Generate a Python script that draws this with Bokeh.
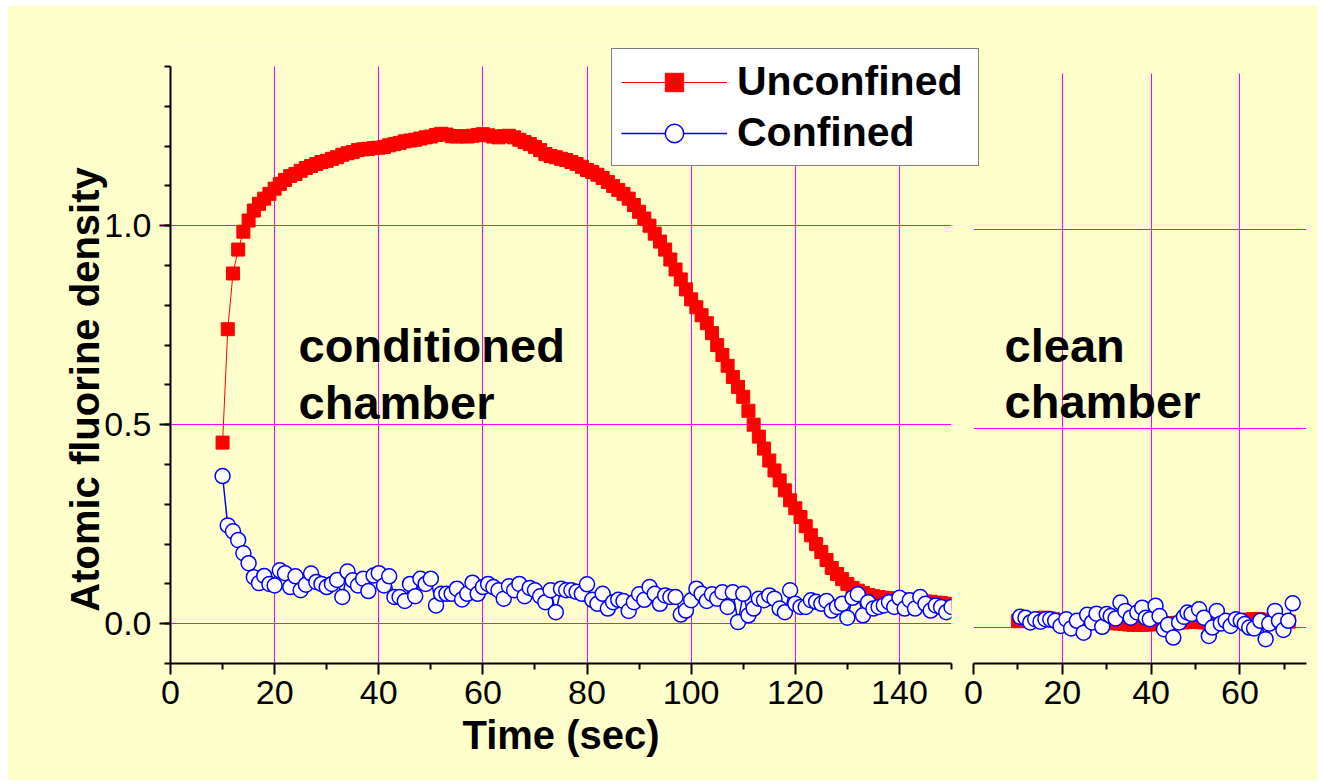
from bokeh.plotting import figure
from bokeh.models import (Range1d, FixedTicker, Legend, LegendItem, Label, Row, Grid,
                          PrintfTickFormatter)
from bokeh.embed import file_html
from bokeh.resources import INLINE

BG = "#FFFFCC"
GRID = "#FF00FF"
FONT = "Liberation Sans"

# ---------------- data ----------------
# conditioned chamber (left panel), one point per second
cond_time = list(range(10, 151))
cond_unconfined = [
    0.455, 0.74, 0.88, 0.94, 0.985, 1.013, 1.038, 1.055, 1.068, 1.08,
    1.093, 1.105, 1.115, 1.125, 1.13, 1.138, 1.145, 1.15, 1.155, 1.16,
    1.163, 1.168, 1.172, 1.178, 1.182, 1.185, 1.19, 1.192, 1.193, 1.195,
    1.196, 1.198, 1.202, 1.205, 1.208, 1.212, 1.214, 1.216, 1.219, 1.222,
    1.224, 1.228, 1.231, 1.229, 1.225, 1.224, 1.225, 1.224, 1.226, 1.228,
    1.23, 1.227, 1.224, 1.222, 1.225, 1.226, 1.222, 1.216, 1.21, 1.205,
    1.198, 1.19, 1.18, 1.175, 1.172, 1.168, 1.165, 1.16, 1.155, 1.148,
    1.14, 1.135, 1.128, 1.12, 1.11, 1.10, 1.09, 1.08, 1.068, 1.052,
    1.035, 1.018, 1.0, 0.98, 0.96, 0.94, 0.915, 0.89, 0.865, 0.84,
    0.815, 0.795, 0.775, 0.755, 0.73, 0.7, 0.675, 0.648, 0.62, 0.595,
    0.57, 0.535, 0.5, 0.47, 0.44, 0.41, 0.385, 0.36, 0.335, 0.31,
    0.29, 0.268, 0.245, 0.222, 0.2, 0.18, 0.16, 0.14, 0.125, 0.112,
    0.1, 0.09, 0.083, 0.077, 0.072, 0.069, 0.067, 0.065, 0.064, 0.063,
    0.062, 0.061, 0.06, 0.059, 0.057, 0.056, 0.055, 0.053, 0.052, 0.05, 0.048,
]
cond_confined = [
    0.371, 0.247, 0.232, 0.21, 0.177, 0.152, 0.117, 0.102, 0.12, 0.10,
    0.096, 0.134, 0.127, 0.092, 0.119, 0.084, 0.098, 0.126, 0.105, 0.10,
    0.092, 0.10, 0.11, 0.067, 0.131, 0.109, 0.096, 0.113, 0.082, 0.121,
    0.127, 0.096, 0.119, 0.067, 0.067, 0.057, 0.10, 0.069, 0.113, 0.10,
    0.113, 0.046, 0.075, 0.075, 0.075, 0.088, 0.061, 0.075, 0.103, 0.075,
    0.092, 0.10, 0.092, 0.084, 0.063, 0.094, 0.084, 0.10, 0.069, 0.09,
    0.084, 0.069, 0.054, 0.084, 0.029, 0.088, 0.084, 0.084, 0.08, 0.075,
    0.099, 0.06, 0.05, 0.075, 0.038, 0.054, 0.06, 0.057, 0.032, 0.054,
    0.074, 0.06, 0.092, 0.075, 0.05, 0.071, 0.067, 0.067, 0.023, 0.033,
    0.059, 0.088, 0.075, 0.057, 0.074, 0.063, 0.079, 0.042, 0.079, 0.004,
    0.075, 0.021, 0.038, 0.063, 0.059, 0.071, 0.063, 0.038, 0.029, 0.084,
    0.05, 0.042, 0.042, 0.059, 0.055, 0.05, 0.057, 0.033, 0.042, 0.05,
    0.015, 0.065, 0.074, 0.021, 0.054, 0.038, 0.042, 0.046, 0.054, 0.042,
    0.065, 0.038, 0.059, 0.038, 0.067, 0.05, 0.033, 0.046, 0.042, 0.029, 0.042,
]

# clean chamber (right panel)
clean_time_unconf = list(range(10, 72))
clean_unconfined = [
    0.015, 0.016, 0.017, 0.018, 0.02, 0.022, 0.024, 0.022, 0.02, 0.016,
    0.014, 0.012, 0.012, 0.011, 0.012, 0.013, 0.014, 0.014, 0.013, 0.012,
    0.012, 0.011, 0.01, 0.009, 0.008, 0.007, 0.006, 0.006, 0.006, 0.007,
    0.007, 0.008, 0.008, 0.009, 0.01, 0.01, 0.011, 0.012, 0.013, 0.013,
    0.014, 0.013, 0.012, 0.011, 0.011, 0.012, 0.013, 0.014, 0.015, 0.016,
    0.017, 0.018, 0.019, 0.02, 0.02, 0.019, 0.018, 0.016, 0.015, 0.014,
    0.014, 0.014,
]
clean_time_conf = [
    10.5, 11.7, 12.8, 13.9, 15.1, 16.2, 17.3, 18.4, 19.6, 20.9,
    22.0, 23.3, 24.8, 25.6, 26.7, 27.7, 29.0, 30.0, 30.9, 32.0,
    33.1, 34.2, 35.4, 36.9, 38.0, 38.8, 39.7, 41.0, 41.9, 42.9,
    43.8, 45.0, 46.3, 47.4, 48.2, 49.1, 50.8, 51.9, 53.0, 53.8,
    54.8, 55.7, 56.8, 57.9, 59.1, 60.2, 61.1, 62.1, 63.2, 64.6,
    65.8, 66.6, 67.9, 68.8, 69.8, 70.9, 71.9,
]
clean_confined = [
    0.026, 0.024, 0.012, 0.02, 0.014, 0.02, 0.02, 0.016, 0.003, 0.02,
    -0.003, 0.016, -0.014, 0.031, 0.012, 0.034, 0.001, 0.033, 0.028, 0.022,
    0.062, 0.041, 0.024, 0.037, 0.049, 0.024, 0.02, 0.054, 0.028, -0.005,
    0.006, -0.026, 0.012, 0.026, 0.037, 0.033, 0.045, 0.024, -0.022, -0.001,
    0.041, 0.009, 0.016, 0.003, 0.02, 0.016, 0.008, -0.001, -0.003, 0.016,
    -0.03, 0.009, 0.041, 0.016, -0.007, 0.016, 0.06,
]

y_major = [0.0, 0.5, 1.0]
y_minor = [-0.1, 0.0, 0.1, 0.2, 0.3, 0.4, 0.5, 0.6, 0.7, 0.8, 0.9, 1.0, 1.1, 1.2, 1.3, 1.4]
x1_major = [0, 20, 40, 60, 80, 100, 120, 140]
x1_minor = [10, 30, 50, 70, 90, 110, 130, 150]
x2_major = [0, 20, 40, 60]
x2_minor = [10, 30, 50, 70]

series_names = ["Unconfined", "Confined"]
panel_texts = [["conditioned", "chamber"], ["clean", "chamber"]]
x_title = "Time (sec)"
y_title = "Atomic fluorine density"

Y_LO, Y_HI = -0.1, 1.4          # plotted y span of both panels
X1_HI, X2_HI = 150, 75          # x spans of the two panels


def style_axis(ax):
    ax.axis_line_width = 2
    ax.axis_line_color = "black"
    ax.major_tick_line_width = 2
    ax.minor_tick_line_width = 2
    ax.major_tick_line_color = "black"
    ax.minor_tick_line_color = "black"
    ax.major_tick_out = 11
    ax.major_tick_in = 0
    ax.minor_tick_out = 6
    ax.minor_tick_in = 0
    ax.major_label_text_font = FONT
    ax.major_label_text_font_size = "34px"
    ax.major_label_text_color = "black"
    ax.axis_label_text_font = FONT
    ax.axis_label_text_font_size = "40px"
    ax.axis_label_text_font_style = "bold"
    ax.axis_label_text_color = "black"


HAS_CROSS = "cross_bounds" in Grid.properties()


def style_grid(g, cross=None):
    g.grid_line_color = GRID
    g.grid_line_width = 1
    if cross is not None and HAS_CROSS:
        g.cross_bounds = cross


# ---- canvas geometry: three stacked layers share one canvas box ----
W, H = 1311, 775
OX, OY = 7, 5                    # page offset of the canvas
TOP, BOT = 42, 117               # common top / bottom borders (frames are aligned in a Row)
FRAME_H = H - TOP - BOT          # 616 px
PX_PER_Y = 398.0                 # 1.5 units over 597 px, as in the reference
Y_TOP = Y_LO + FRAME_H / PX_PER_Y   # frame reaches a little above 1.4 so the legend fits
P2_DROP = 3.5 / PX_PER_Y         # right panel sits ~3 px lower in the reference

# ---------------- left panel: conditioned chamber ----------------
p1 = figure(width=W, height=H, x_range=Range1d(0, X1_HI), y_range=Range1d(Y_LO, Y_TOP),
            output_backend="svg", toolbar_location=None,
            min_border_left=163, min_border_right=W - 163 - 781,
            min_border_top=TOP, min_border_bottom=BOT,
            background_fill_color=BG, border_fill_color=BG, outline_line_color=None,
            margin=(OY, 0, 0, OX))

p1.xaxis.ticker = FixedTicker(ticks=x1_major, minor_ticks=x1_minor)
p1.yaxis.ticker = FixedTicker(ticks=y_major, minor_ticks=y_minor)
p1.yaxis.bounds = (Y_LO, Y_HI)
p1.yaxis.formatter = PrintfTickFormatter(format="%.1f")
p1.xaxis.axis_label = x_title
for ax in p1.axis:
    style_axis(ax)
p1.xaxis.major_label_standoff = 6
p1.yaxis.major_label_standoff = 8
p1.xaxis.axis_label_standoff = 6
style_grid(p1.xgrid[0], cross=(Y_LO, Y_HI))
style_grid(p1.ygrid[0])

p1.line(cond_time, cond_unconfined, line_color="red", line_width=1)
p1.scatter(cond_time, cond_unconfined, marker="square", size=13,
           fill_color="red", line_color="red", line_width=1)
p1.line(cond_time, cond_confined, line_color="blue", line_width=1.5)
p1.scatter(cond_time, cond_confined, marker="circle", size=15,
           fill_color="white", line_color="blue", line_width=1.5)

for txt, yv in zip(panel_texts[0], [0.699, 0.557]):
    p1.add_layout(Label(x=24.6, y=yv, text=txt, text_font=FONT, text_font_style="bold",
                        text_font_size="47px", text_baseline="alphabetic", text_color="black"))

# ---------------- right panel: clean chamber (transparent overlay) ----------------
p2 = figure(width=W, height=H, x_range=Range1d(0, X2_HI),
            y_range=Range1d(Y_LO + P2_DROP, Y_TOP + P2_DROP),
            output_backend="svg", toolbar_location=None,
            min_border_left=966, min_border_right=W - 966 - 333,
            min_border_top=TOP, min_border_bottom=BOT,
            background_fill_alpha=0, border_fill_alpha=0, outline_line_color=None,
            margin=(OY, 0, 0, -W))
p2.xaxis.ticker = FixedTicker(ticks=x2_major, minor_ticks=x2_minor)
p2.yaxis.ticker = FixedTicker(ticks=y_major, minor_ticks=[])
p2.ygrid.ticker = FixedTicker(ticks=y_major, minor_ticks=[])
p2.yaxis.visible = False
for ax in p2.xaxis:
    style_axis(ax)
p2.xaxis.major_label_standoff = 6
style_grid(p2.xgrid[0], cross=(Y_LO + P2_DROP, Y_HI - P2_DROP))
style_grid(p2.ygrid[0])

p2.line(clean_time_unconf, clean_unconfined, line_color="red", line_width=1)
p2.scatter(clean_time_unconf, clean_unconfined, marker="square", size=13,
           fill_color="red", line_color="red", line_width=1)
p2.line(clean_time_conf, clean_confined, line_color="blue", line_width=1.5)
p2.scatter(clean_time_conf, clean_confined, marker="circle", size=15,
           fill_color="white", line_color="blue", line_width=1.5)

for txt, yv in zip(panel_texts[1], [0.708, 0.566]):
    p2.add_layout(Label(x=7.0, y=yv, text=txt, text_font=FONT, text_font_style="bold",
                        text_font_size="47px", text_baseline="alphabetic", text_color="black"))

# ---------------- top layer: legend and y title (page-pixel coordinates) ----------------
p3 = figure(width=W, height=H,
            x_range=Range1d(OX, OX + W), y_range=Range1d(BOT, H - TOP),
            output_backend="svg", toolbar_location=None,
            x_axis_location=None, y_axis_location=None,
            min_border_left=0, min_border_right=0, min_border_top=TOP, min_border_bottom=BOT,
            background_fill_alpha=0, border_fill_alpha=0, outline_line_color=None,
            margin=(OY, 0, 0, -W))
for g in p3.grid:
    g.visible = False

l_red = p3.line(cond_time, cond_unconfined, line_color="red", line_width=1, visible=False)
s_red = p3.scatter(cond_time, cond_unconfined, marker="square", size=13,
                   fill_color="red", line_color="red", line_width=1, visible=False)
l_blue = p3.line(cond_time, cond_confined, line_color="blue", line_width=1.5, visible=False)
s_blue = p3.scatter(cond_time, cond_confined, marker="circle", size=15,
                    fill_color="white", line_color="blue", line_width=1.5, visible=False)

legend = Legend(items=[LegendItem(label=series_names[0], renderers=[l_red, s_red]),
                       LegendItem(label=series_names[1], renderers=[l_blue, s_blue])],
                location=(611 - OX, (OY + H - BOT) - 166),
                glyph_width=106, glyph_height=46, label_standoff=10, label_width=232,
                padding=9, spacing=4, margin=0,
                label_text_font=FONT, label_text_font_style="bold", label_text_font_size="41px",
                label_text_color="black",
                border_line_color="black", border_line_width=1.5,
                background_fill_color="white", background_fill_alpha=1.0,
                inactive_fill_alpha=0.0)
p3.add_layout(legend)

p3.add_layout(Label(x=84, y=(OY + H) - 389, text=y_title, angle=90, angle_units="deg",
                    text_font=FONT, text_font_style="bold", text_font_size="40px",
                    text_align="center", text_baseline="alphabetic", text_color="black"))

layout = Row(children=[p1, p2, p3], spacing=0)

open("out.html", "w").write(file_html(layout, INLINE, title="Atomic fluorine density"))
